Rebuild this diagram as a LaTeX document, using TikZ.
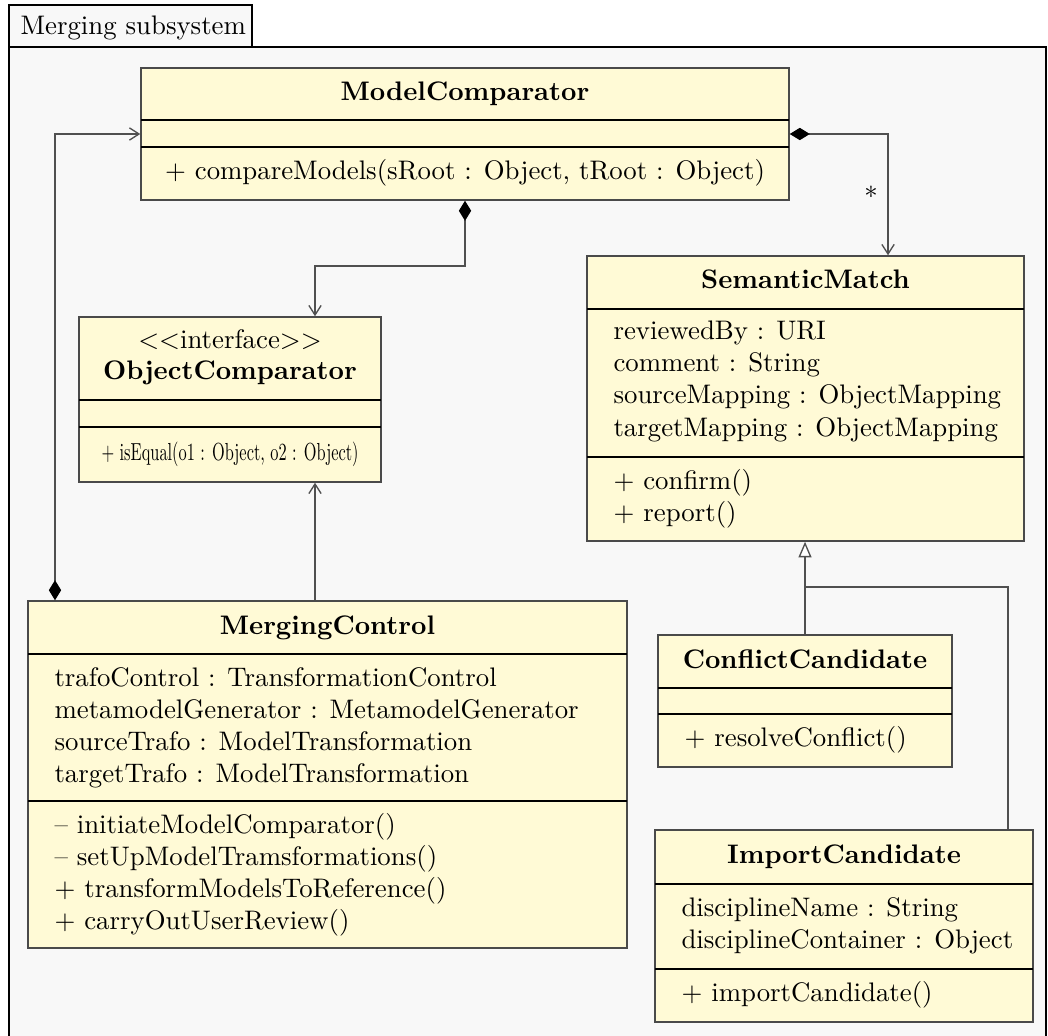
\documentclass[tikz,border=0pt]{standalone}
\usetikzlibrary{arrows.meta,fit}

\definecolor{classfill}{HTML}{FFFAD6}
\definecolor{framefill}{HTML}{F8F8F8}
\definecolor{edgegray}{HTML}{505050}
\definecolor{boxline}{HTML}{4A4A4A}

\tikzset{
  cls/.style={draw=boxline, fill=classfill, line width=0.55pt, inner sep=0pt},
  sepline/.style={draw=black, line width=0.45pt},
  lbl/.style={inner sep=0pt, anchor=base west},
  ttl/.style={inner sep=0pt, anchor=base, font=\bfseries},
  ctr/.style={inner sep=0pt, anchor=base},
  link/.style={draw=edgegray, line width=0.5pt},
  nav/.style={-{Straight Barb[length=3.6pt,width=4.6pt]}},
  compnav/.style={{Diamond[length=7.5pt,width=4.6pt,color=black]}-{Straight Barb[length=3.6pt,width=4.6pt]}},
  gen/.style={-{Triangle[open,length=5.8pt,width=4.8pt,fill=white]}},
}

\begin{document}
\begin{tikzpicture}[x=0.373pt,y=-0.373pt]
\useasboundingbox (0,0) rectangle (1048,1035);
\clip (0,0) rectangle (1048,1035);

% package frame and its tab
\node[draw=black, fill=framefill, line width=0.5pt, inner sep=0pt, fit={(9,47) (1046,1060)}] (frm) {};
\node[draw=black, fill=framefill, line width=0.5pt, inner sep=0pt, fit={(9,5) (252,47)}] (tab) {};
\node[lbl] (tabtxt) at (20,35) {Merging subsystem};

% ModelComparator
\node[cls, fit={(141,68) (789,200)}] (mc) {};
\draw[sepline] (141,120) -- (789,120);
\draw[sepline] (141,147) -- (789,147);
\node[ttl] (mcname) at (465,101) {ModelComparator};
\node[ctr] (mcop) at (465,180) {+ compareModels(sRoot : Object, tRoot : Object)};

% ObjectComparator
\node[cls, fit={(79,317) (381,482)}] (oc) {};
\draw[sepline] (79,400) -- (381,400);
\draw[sepline] (79,427) -- (381,427);
\node[ctr] (ocst) at (230,349) {$<<$interface$>>$};
\node[ttl] (ocname) at (230,380) {ObjectComparator};
\node[ctr] (ocop) at (230,460) {\scalebox{0.61}[0.92]{+ isEqual(o1 : Object, o2 : Object)}};

% SemanticMatch
\node[cls, fit={(587,256) (1024,541)}] (sm) {};
\draw[sepline] (587,309) -- (1024,309);
\draw[sepline] (587,457) -- (1024,457);
\node[ttl] (smname) at (805.5,289) {SemanticMatch};
\node[lbl] (sma1) at (613,340) {reviewedBy : URI};
\node[lbl] (sma2) at (613,372) {comment : String};
\node[lbl] (sma3) at (613,404) {sourceMapping : ObjectMapping};
\node[lbl] (sma4) at (613,436) {targetMapping : ObjectMapping};
\node[lbl] (smo1) at (613,489) {+ confirm()};
\node[lbl] (smo2) at (613,521) {+ report()};

% MergingControl
\node[cls, fit={(28,601) (627,948)}] (mrg) {};
\draw[sepline] (28,654) -- (627,654);
\draw[sepline] (28,801) -- (627,801);
\node[ttl] (mrgname) at (327.5,634) {MergingControl};
\node[lbl] (mrga1) at (54,686) {trafoControl : TransformationControl};
\node[lbl] (mrga2) at (54,718) {metamodelGenerator : MetamodelGenerator};
\node[lbl] (mrga3) at (54,750) {sourceTrafo : ModelTransformation};
\node[lbl] (mrga4) at (54,782) {targetTrafo : ModelTransformation};
\node[lbl] (mrgo1) at (54,833) {-- initiateModelComparator()};
\node[lbl] (mrgo2) at (54,865) {-- setUpModelTramsformations()};
\node[lbl] (mrgo3) at (54,897) {+ transformModelsToReference()};
\node[lbl] (mrgo4) at (54,929) {+ carryOutUserReview()};

% ConflictCandidate
\node[cls, fit={(658,635) (952,767)}] (cc) {};
\draw[sepline] (658,688) -- (952,688);
\draw[sepline] (658,714) -- (952,714);
\node[ttl] (ccname) at (805,668) {ConflictCandidate};
\node[lbl] (ccop) at (684,746) {+ resolveConflict()};

% ImportCandidate
\node[cls, fit={(655,830) (1033,1022)}] (ic) {};
\draw[sepline] (655,884) -- (1033,884);
\draw[sepline] (655,969) -- (1033,969);
\node[ttl] (icname) at (844,863) {ImportCandidate};
\node[lbl] (ica1) at (681,916) {disciplineName : String};
\node[lbl] (ica2) at (681,948) {disciplineContainer : Object};
\node[lbl] (icop) at (681,1001) {+ importCandidate()};

% bend points of the connectors
\coordinate (bendA) at (55,134);
\coordinate (bendB) at (315,266);
\coordinate (bendC) at (888,134);
\coordinate (bendD) at (1008,587);
\coordinate (joinG) at (805,587);

% associations
\draw[link, compnav] (mrg.north -| bendA) -- (bendA) -- (mc.west);
\draw[link, compnav] (mc.south) -- (mc.south |- bendB) -- (bendB) -- (oc.north -| bendB);
\draw[link, compnav] (mc.east) -- (bendC) -- (sm.north -| bendC);
\node[inner sep=0pt] (mult) at (871,192) {$*$};
\draw[link, nav] (mrg.north -| bendB) -- (oc.south -| bendB);

% generalizations
\draw[link, gen] (cc.north) -- (sm.south -| cc.north);
\draw[link] (ic.north -| bendD) -- (bendD) -- (joinG);
\end{tikzpicture}
\end{document}
